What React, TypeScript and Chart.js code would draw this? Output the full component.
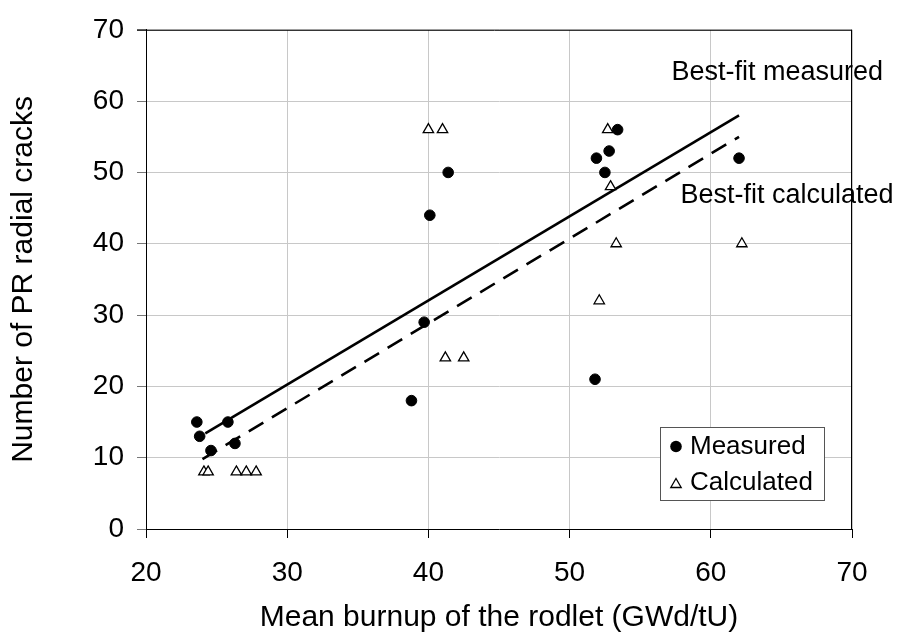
import React, { useEffect, useRef } from 'react';
import { Chart, registerables } from 'chart.js';

Chart.register(...registerables);

// ---- data ----
const measuredBurnup = [23.6, 23.8, 24.6, 25.8, 26.3, 38.8, 39.7, 40.1, 41.4, 51.8, 51.9, 52.5, 52.8, 53.4, 62.0];
const measuredCracks = [15, 13, 11, 15, 12, 18, 29, 44, 50, 21, 52, 50, 53, 56, 52];

const calculatedBurnup = [24.1, 24.4, 26.4, 27.1, 27.8, 40.0, 41.0, 41.2, 42.5, 52.1, 52.7, 52.9, 53.3, 62.2];
const calculatedCracks = [8, 8, 8, 8, 8, 56, 56, 24, 24, 32, 56, 48, 40, 40];

const fitMeasuredBurnup = [24.2, 62.0];
const fitMeasuredCracks = [13.4, 58.0];
const fitCalculatedBurnup = [24.0, 62.0];
const fitCalculatedCracks = [9.8, 55.0];

const xTickValues = [20, 30, 40, 50, 60, 70];
const yTickValues = [0, 10, 20, 30, 40, 50, 60, 70];

const xTitle = 'Mean burnup of the rodlet (GWd/tU)';
const yTitle = 'Number of PR radial cracks';
const seriesNames = ['Measured', 'Calculated'];
const fitLabels = ['Best-fit measured', 'Best-fit calculated'];

const FONT = "'Liberation Sans', Arial, Helvetica, sans-serif";

const toPoints = (xs: number[], ys: number[]) => xs.map((x, i) => ({ x, y: ys[i] }));

const decorPlugin = {
  id: 'decor',
  afterDatasetsDraw(chart: any) {
    const ctx = chart.ctx;
    ctx.save();
    // fit-line labels
    ctx.fillStyle = '#000';
    ctx.font = `27px ${FONT}`;
    ctx.textAlign = 'left';
    ctx.textBaseline = 'middle';
    ctx.fillText(fitLabels[0], 671.5, 73);
    ctx.fillText(fitLabels[1], 680.5, 196);

    // legend box
    const bx = 660, by = 427.5, bw = 164, bh = 73;
    ctx.fillStyle = '#fff';
    ctx.fillRect(bx, by, bw, bh);
    ctx.strokeStyle = '#555';
    ctx.lineWidth = 1;
    ctx.strokeRect(bx + 0.5, by, bw, bh);

    const rows = [446.5, 483];
    const mx = 676;
    // circle marker
    ctx.beginPath();
    ctx.arc(mx, rows[0], 5.8, 0, Math.PI * 2);
    ctx.fillStyle = '#000';
    ctx.fill();
    // triangle marker
    const r = 6;
    ctx.beginPath();
    for (let k = 0; k < 3; k++) {
      const a = (k * 2 * Math.PI) / 3;
      const px = mx + Math.sin(a) * r;
      const py = rows[1] + 1.5 - Math.cos(a) * r;
      if (k === 0) ctx.moveTo(px, py);
      else ctx.lineTo(px, py);
    }
    ctx.closePath();
    ctx.fillStyle = '#fff';
    ctx.fill();
    ctx.strokeStyle = '#000';
    ctx.lineWidth = 1.3;
    ctx.stroke();

    ctx.fillStyle = '#000';
    ctx.font = `26px ${FONT}`;
    ctx.fillText(seriesNames[0], 690, rows[0]);
    ctx.fillText(seriesNames[1], 690, rows[1]);
    ctx.restore();
  },
  afterDraw(chart: any) {
    const { ctx, chartArea } = chart;
    ctx.save();
    ctx.strokeStyle = '#000';
    ctx.lineWidth = 1;
    ctx.beginPath();
    ctx.moveTo(chartArea.left - 9, chartArea.top + 0.5);
    ctx.lineTo(chartArea.right, chartArea.top + 0.5);
    ctx.moveTo(chartArea.right - 0.5, chartArea.top);
    ctx.lineTo(chartArea.right - 0.5, chartArea.bottom + 1);
    ctx.stroke();
    ctx.restore();
  },
};

export default function App() {
  const canvasRef = useRef<HTMLCanvasElement | null>(null);

  useEffect(() => {
    const canvas = canvasRef.current;
    if (!canvas) return;
    const chart = new Chart(canvas, {
      type: 'scatter',
      data: {
        datasets: [
          {
            label: seriesNames[0],
            data: toPoints(measuredBurnup, measuredCracks),
            pointStyle: 'circle',
            pointRadius: 5.3,
            backgroundColor: '#000',
            borderColor: '#000',
            borderWidth: 1,
          },
          {
            label: seriesNames[1],
            data: toPoints(calculatedBurnup, calculatedCracks),
            pointStyle: 'triangle',
            pointRadius: 6,
            backgroundColor: '#fff',
            borderColor: '#000',
            borderWidth: 1.3,
          },
          {
            label: fitLabels[0],
            data: toPoints(fitMeasuredBurnup, fitMeasuredCracks),
            showLine: true,
            pointRadius: 0,
            borderColor: '#000',
            borderWidth: 2.6,
            fill: false,
          },
          {
            label: fitLabels[1],
            data: toPoints(fitCalculatedBurnup, fitCalculatedCracks),
            showLine: true,
            pointRadius: 0,
            borderColor: '#000',
            borderWidth: 2.6,
            borderDash: [17, 10],
            fill: false,
          },
        ],
      },
      options: {
        animation: false,
        responsive: false,
        devicePixelRatio: 1,
        layout: { padding: { top: 22, right: 50, bottom: 0, left: 0 } },
        plugins: {
          legend: { display: false },
          tooltip: { enabled: false },
        },
        scales: {
          x: {
            type: 'linear',
            min: 20,
            max: 70,
            afterBuildTicks: (s: any) => {
              s.ticks = xTickValues.map((v) => ({ value: v }));
            },
            afterFit: (s: any) => {
              s.height = 115;
            },
            ticks: {
              color: '#000',
              font: { family: FONT, size: 28 },
              padding: 18,
              maxRotation: 0,
              autoSkip: false,
            },
            grid: { color: '#c8c8c8', lineWidth: 1, tickColor: '#000', tickLength: 9 },
            border: { color: '#000', width: 1 },
            title: {
              display: true,
              text: xTitle,
              color: '#000',
              font: { family: FONT, size: 30 },
              padding: { top: 0, bottom: 8 },
            },
          },
          y: {
            type: 'linear',
            min: 0,
            max: 70,
            afterBuildTicks: (s: any) => {
              s.ticks = yTickValues.map((v) => ({ value: v }));
            },
            afterFit: (s: any) => {
              s.width = 146;
            },
            ticks: {
              color: '#000',
              font: { family: FONT, size: 28 },
              padding: 13,
              autoSkip: false,
            },
            grid: { color: '#c8c8c8', lineWidth: 1, tickColor: '#777', tickLength: 9 },
            border: { color: '#000', width: 1 },
            title: {
              display: true,
              text: yTitle,
              color: '#000',
              font: { family: FONT, size: 30 },
              padding: { top: 6, bottom: 0 },
            },
          },
        },
      },
      plugins: [decorPlugin],
    } as any);
    return () => chart.destroy();
  }, []);

  return (
    <div style={{ position: 'fixed', left: 0, top: 0, width: 902, height: 644, background: '#fff' }}>
      <canvas ref={canvasRef} width={902} height={644} style={{ display: 'block' }} />
    </div>
  );
}
